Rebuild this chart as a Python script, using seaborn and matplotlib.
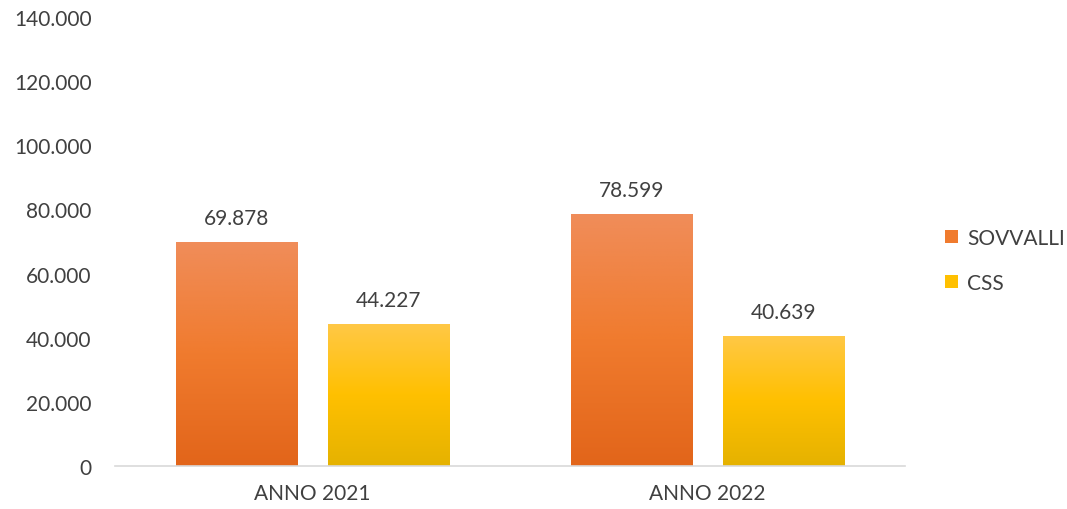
import numpy as np
import pandas as pd
import matplotlib
matplotlib.use('Agg')
import matplotlib.pyplot as plt
import seaborn as sns
from matplotlib.colors import LinearSegmentedColormap
from matplotlib.patches import Patch
from matplotlib.ticker import FuncFormatter

# Data
# ======================================================================================
years = ['ANNO 2021', 'ANNO 2022']
series = ['SOVVALLI', 'CSS']
sovvalli = [69878, 78599]
css = [44227, 40639]

df = pd.DataFrame({
    'anno': years * 2,
    'ente': ['SOVVALLI'] * 2 + ['CSS'] * 2,
    'valore': sovvalli + css,
})

# top / middle / bottom colours of the gradients
grad = {
    'SOVVALLI': ['#F08D5A', '#F07B2E', '#E2651A'],
    'CSS': ['#FFC846', '#FFC000', '#E5B200'],
}

sns.set_theme(style='white')
plt.rcParams['font.family'] = ['Lato', 'DejaVu Sans']
txt = '#404040'


def fmt(v):
    return f'{int(v):,}'.replace(',', '.')


fig = plt.figure(figsize=(10.67, 5.10), dpi=100)
ax = fig.add_axes([0.108, 0.0843, 0.74, 0.8804])

sns.barplot(data=df, x='anno', y='valore', hue='ente', hue_order=series,
            palette=[grad[s][1] for s in series], width=0.77, gap=0.2,
            ax=ax, legend=False, errorbar=None)

ax.set_ylim(0, 140000)
ax.set_yticks(np.arange(0, 140001, 20000))
ax.yaxis.set_major_formatter(FuncFormatter(lambda v, p: fmt(v)))
ax.set_xlabel('')
ax.set_ylabel('')
for s in ['top', 'right', 'left']:
    ax.spines[s].set_visible(False)
ax.spines['bottom'].set_color('#D9D9D9')
ax.spines['bottom'].set_linewidth(1.2)
ax.tick_params(axis='y', length=0, labelsize=15, labelcolor=txt, pad=17)
ax.tick_params(axis='x', length=0, labelsize=15, labelcolor=txt, pad=12)

# gradient fill for each bar
for container, name in zip(ax.containers, series):
    cmap = LinearSegmentedColormap.from_list(name, grad[name][::-1])
    for bar in container:
        x0, y0 = bar.get_x(), bar.get_y()
        w, h = bar.get_width(), bar.get_height()
        g = np.linspace(0, 1, 256).reshape(-1, 1)
        im = ax.imshow(g, cmap=cmap, origin='lower', aspect='auto',
                       extent=[x0, x0 + w, y0, y0 + h], zorder=bar.get_zorder())
        im.set_clip_path(bar)
        bar.set_alpha(0)
    ax.bar_label(container, labels=[fmt(v) for v in container.datavalues],
                 padding=10, fontsize=15, color=txt)

ax.set_xlim(-0.5, 1.5)
ax.set_aspect('auto')

handles = [Patch(facecolor=grad[s][1], edgecolor='none') for s in series]
fig.legend(handles, series, loc='center left', bbox_to_anchor=(0.886, 0.488),
           frameon=False, fontsize=15, labelcolor=txt, handlelength=0.6,
           handleheight=0.6, handletextpad=0.45, labelspacing=1.2,
           borderaxespad=0, borderpad=0)

fig.savefig('out.png', dpi=100)
